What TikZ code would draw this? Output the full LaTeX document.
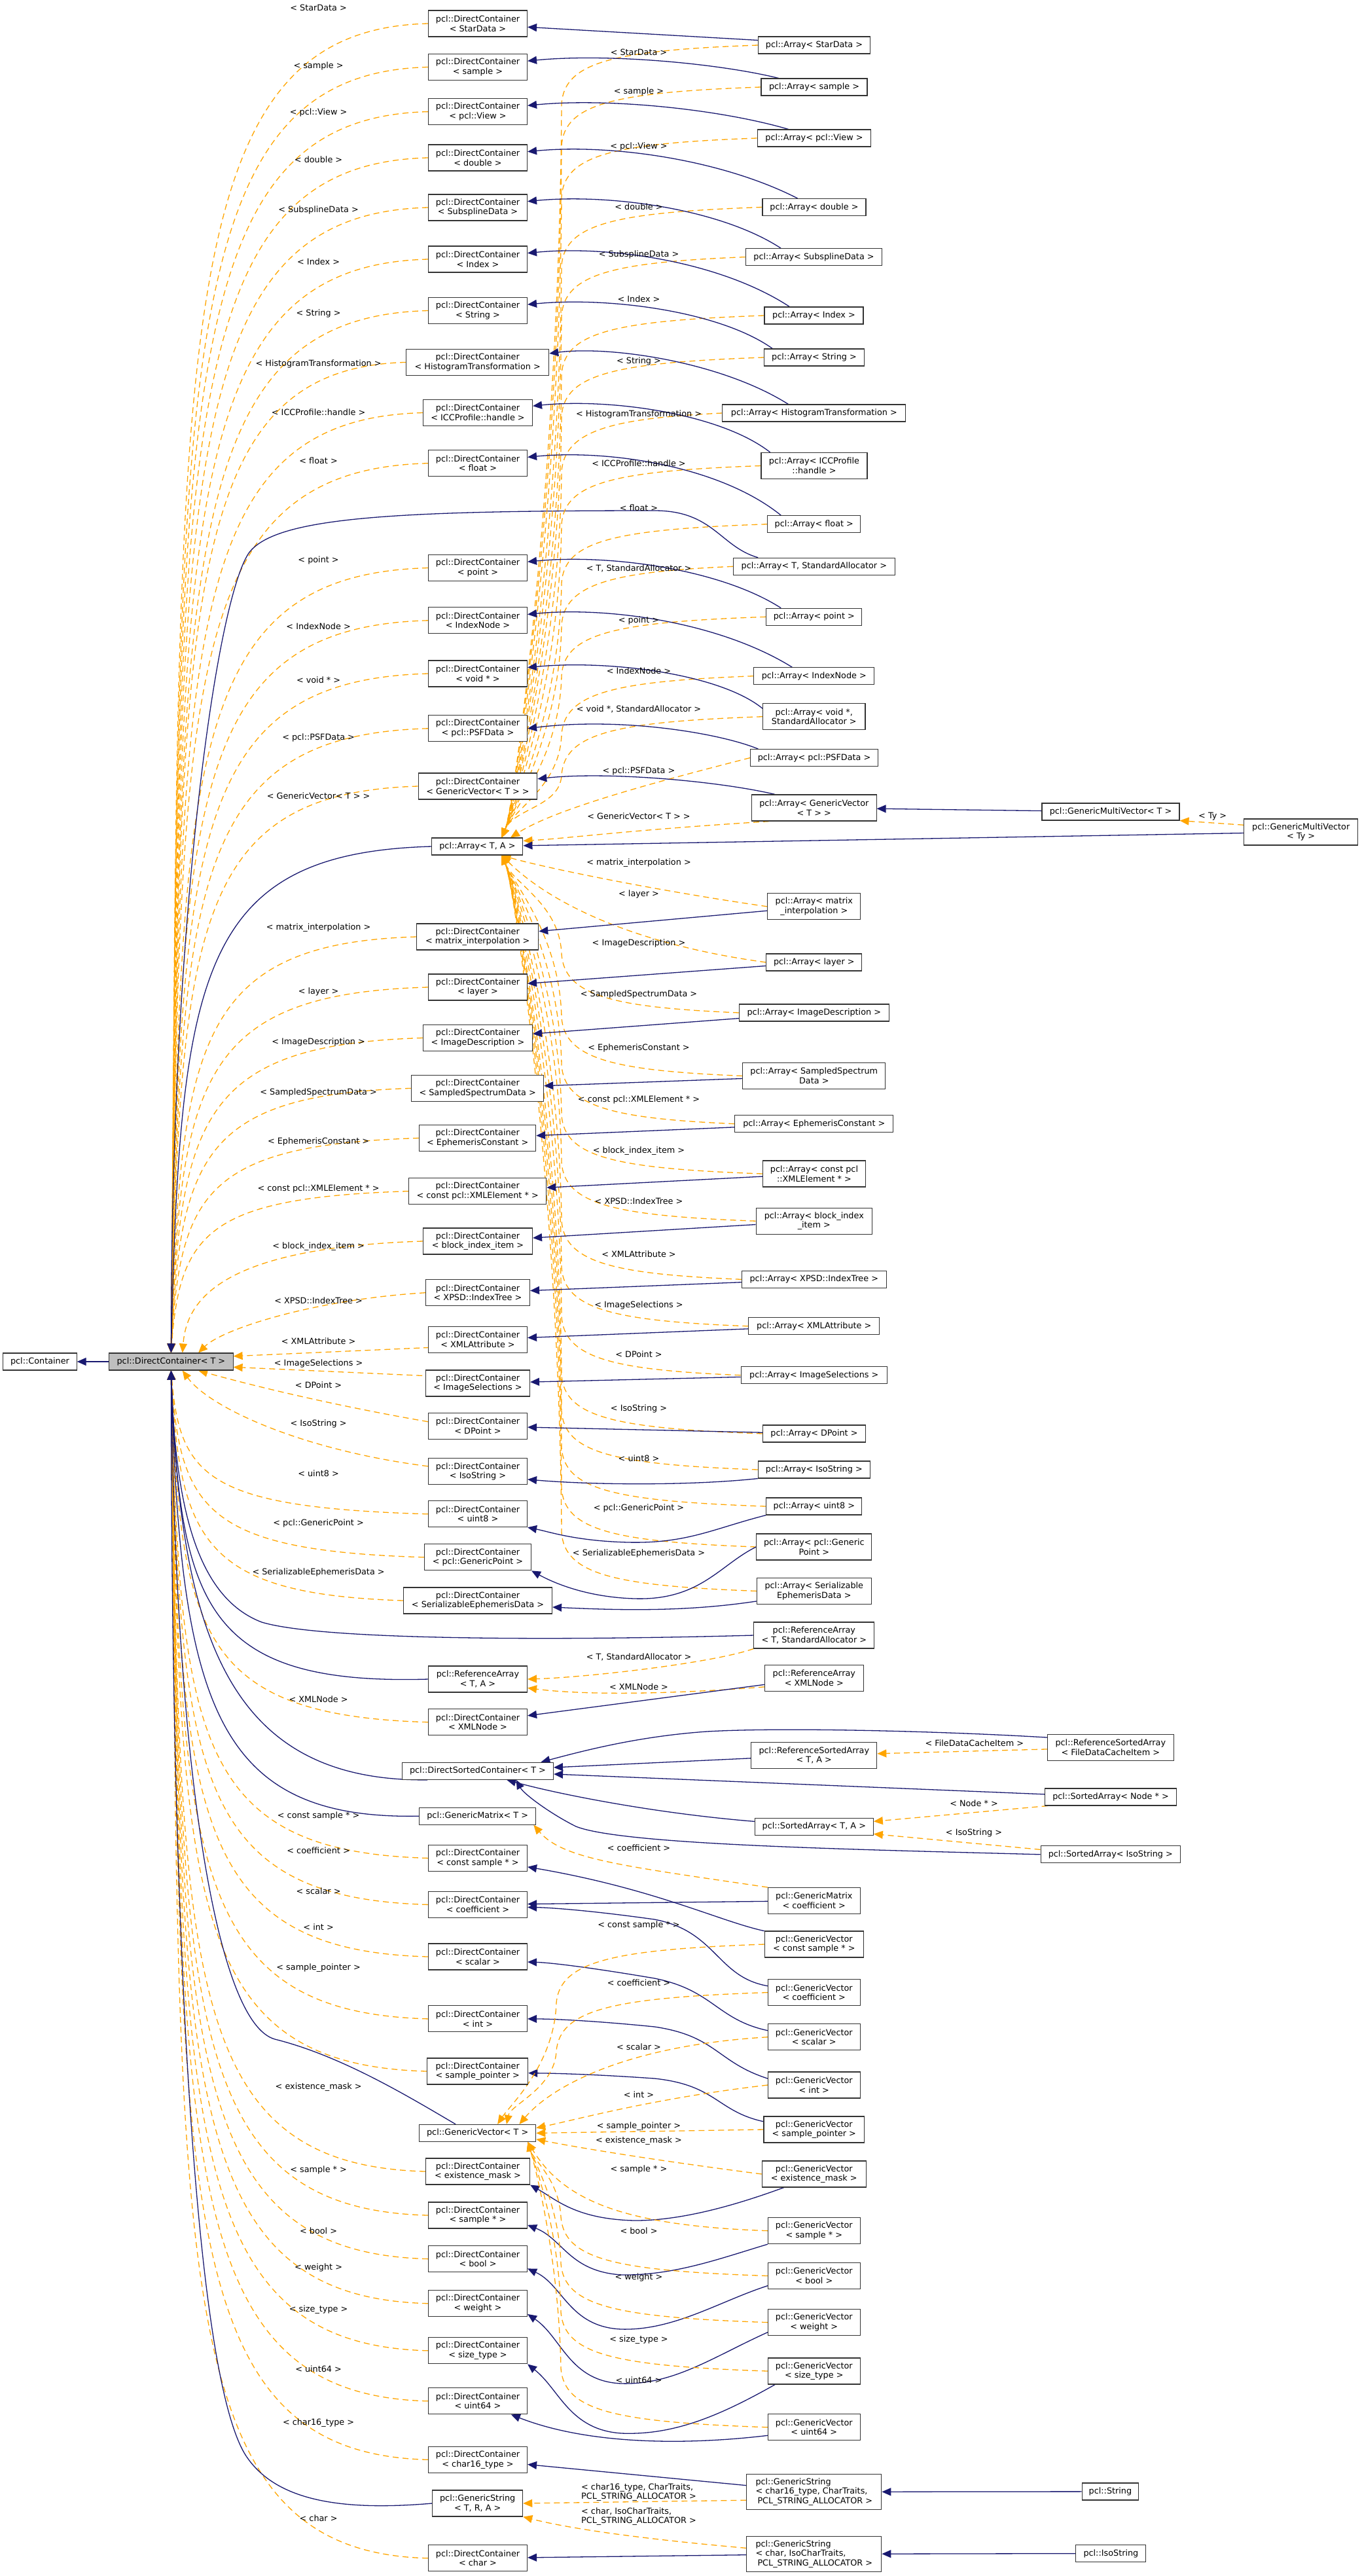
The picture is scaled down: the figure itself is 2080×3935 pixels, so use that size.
\documentclass[tikz,border=0pt]{standalone}
\usepackage{fontspec}
\setmainfont{DejaVu Sans}
\usetikzlibrary{arrows.meta}
\definecolor{navy}{HTML}{191970}
\definecolor{orng}{HTML}{FFA500}
\definecolor{dcfill}{HTML}{BFBFBF}
\pgfdeclarelayer{bg}
\pgfsetlayers{bg,main}
\newcommand\dfont{\fontsize{12.8pt}{14.7pt}\selectfont}
\tikzset{
 box/.style={draw=black!80, line width=1.1pt, fill=white, inner sep=0pt, align=center, font=\dfont},
 dcw/.style={box, minimum width=151pt, minimum height=40pt},
 one/.style={box, minimum height=26pt},
 two/.style={box, minimum height=40pt},
 lbl/.style={inner sep=0pt, font=\dfont, align=center},
 inh/.style={draw=navy, line width=1.3pt, -{Triangle[length=14pt,width=12pt]}},
 tmpl/.style={draw=orng, line width=1.3pt, dash pattern=on 9pt off 6pt, -{Triangle[length=14pt,width=12pt]}},
}
% DirectContainer fan
\newcommand\fanDU[3]{\draw[tmpl] (#1.west) .. controls (#2,#3+10) and (275,{#3+0.25*(2067-#3)}) .. (dc.north);}
\newcommand\fanDD[3]{\draw[tmpl] (#1.west) .. controls (#2,#3-10) and (275,{#3-0.25*(#3-2093)}) .. (dc.south);}
% Array fan
\newcommand\fanAU[2]{\draw[tmpl] (#1.west) .. controls (940,#2+8) and (862,#2+25) .. (858,#2+90) .. controls (855,{(#2+1370)/2}) and (785,1235) .. (aTA.20);}
\newcommand\fanAD[2]{\draw[tmpl] (#1.west) .. controls (940,#2-8) and (862,#2-25) .. (858,#2-90) .. controls (855,{(#2-90+1306)/2}) and (785,1350) .. (aTA.-20);}
% GenericVector fan
\newcommand\fanGU[3]{\draw[tmpl] (#1.west) .. controls (940,#2+8) and (855,#2+25) .. (850,#2+90) .. controls (847,{(#2+90+3246)/2}) and (780,3215) .. (gvT.#3);}
\newcommand\fanGD[2]{\draw[tmpl] (#1.west) .. controls (940,#2-8) and (862,#2-25) .. (857,#2-90) .. controls (854,{(#2-90+3271)/2}) and (815,3300) .. (gvT.-10);}
% Array -> DirectContainer S curves
\newcommand\sS[5]{\draw[inh] (#1.#2) .. controls (1100,{#5+0.15*(#4-#5)}) and (930,#5-12) .. (#3.7);}
\begin{document}
\begin{tikzpicture}[x=1pt,y=-1pt]
\useasboundingbox (0,0) rectangle (2080,3935);

% ---------- left ----------
\node[one, minimum width=112.3pt] (cont) at (61,2080) {pcl::Container};
\node[one, minimum width=189.3pt, fill=dcfill] (dc) at (261.4,2080) {pcl::DirectContainer< T >};

% ---------- DirectContainer column ----------
\node[dcw] (dcStar) at (730,36) {pcl::DirectContainer\\< StarData >};
\node[dcw] (dcSample) at (730,102.5) {pcl::DirectContainer\\< sample >};
\node[dcw] (dcView) at (730,170.6) {pcl::DirectContainer\\< pcl::View >};
\node[dcw] (dcDouble) at (730,241) {pcl::DirectContainer\\< double >};
\node[dcw] (dcSubspline) at (730,317) {pcl::DirectContainer\\< SubsplineData >};
\node[dcw] (dcIndex) at (730,396) {pcl::DirectContainer\\< Index >};
\node[dcw] (dcString) at (730,474.5) {pcl::DirectContainer\\< String >};
\node[dcw, minimum width=218pt] (dcHist) at (729.7,553.4) {pcl::DirectContainer\\< HistogramTransformation >};
\node[dcw, minimum width=167pt] (dcICC) at (730,630.5) {pcl::DirectContainer\\< ICCProfile::handle >};
\node[dcw] (dcFloat) at (730,707.7) {pcl::DirectContainer\\< float >};
\node[dcw] (dcPoint) at (730,867.5) {pcl::DirectContainer\\< point >};
\node[dcw] (dcIndexNode) at (730,947.8) {pcl::DirectContainer\\< IndexNode >};
\node[dcw] (dcVoid) at (730,1029) {pcl::DirectContainer\\< void * >};
\node[dcw] (dcPSF) at (730,1112.8) {pcl::DirectContainer\\< pcl::PSFData >};
\node[dcw, minimum width=181.5pt] (dcGV) at (730,1201) {pcl::DirectContainer\\< GenericVector< T > >};
\node[one, minimum width=139pt] (aTA) at (729.4,1293) {pcl::Array< T, A >};
\node[dcw, minimum width=186pt] (dcMI) at (729.7,1431) {pcl::DirectContainer\\< matrix\_interpolation >};
\node[dcw] (dcLayer) at (730,1508) {pcl::DirectContainer\\< layer >};
\node[dcw, minimum width=167pt] (dcImgDesc) at (730,1585.5) {pcl::DirectContainer\\< ImageDescription >};
\node[dcw, minimum width=202pt] (dcSSD) at (729.7,1662.4) {pcl::DirectContainer\\< SampledSpectrumData >};
\node[dcw, minimum width=178pt] (dcEph) at (729.7,1738.5) {pcl::DirectContainer\\< EphemerisConstant >};
\node[dcw, minimum width=210pt] (dcXMLE) at (729.7,1819.6) {pcl::DirectContainer\\< const pcl::XMLElement * >};
\node[dcw, minimum width=167pt] (dcBlock) at (730,1896) {pcl::DirectContainer\\< block\_index\_item >};
\node[dcw, minimum width=159pt] (dcXPSD) at (730,1974.7) {pcl::DirectContainer\\< XPSD::IndexTree >};
\node[dcw] (dcXMLA) at (730,2046.5) {pcl::DirectContainer\\< XMLAttribute >};
\node[dcw, minimum width=159pt] (dcImgSel) at (730,2113) {pcl::DirectContainer\\< ImageSelections >};
\node[dcw] (dcDPoint) at (730,2178.4) {pcl::DirectContainer\\< DPoint >};
\node[dcw] (dcIsoString) at (730,2247.8) {pcl::DirectContainer\\< IsoString >};
\node[dcw] (dcUint8) at (730,2312.8) {pcl::DirectContainer\\< uint8 >};
\node[dcw, minimum width=163pt] (dcGP) at (730,2378.8) {pcl::DirectContainer\\< pcl::GenericPoint >};
\node[dcw, minimum width=227pt] (dcSED) at (730,2445) {pcl::DirectContainer\\< SerializableEphemerisData >};
\node[dcw] (raTA) at (730,2565) {pcl::ReferenceArray\\< T, A >};
\node[dcw] (dcXMLNode) at (730,2630.7) {pcl::DirectContainer\\< XMLNode >};
\node[one, minimum width=231pt] (dsc) at (730,2705.3) {pcl::DirectSortedContainer< T >};
\node[one, minimum width=178pt] (gmT) at (729.7,2774.2) {pcl::GenericMatrix< T >};
\node[dcw] (dcCSample) at (730,2838.4) {pcl::DirectContainer\\< const sample * >};
\node[dcw] (dcCoef) at (730,2909.4) {pcl::DirectContainer\\< coefficient >};
\node[dcw] (dcScalar) at (730,2989) {pcl::DirectContainer\\< scalar >};
\node[dcw] (dcInt) at (730,3083.9) {pcl::DirectContainer\\< int >};
\node[dcw, minimum width=154pt] (dcSP) at (729.7,3164) {pcl::DirectContainer\\< sample\_pointer >};
\node[one, minimum width=178pt] (gvT) at (729.7,3258.4) {pcl::GenericVector< T >};
\node[dcw, minimum width=159pt] (dcEM) at (730,3317) {pcl::DirectContainer\\< existence\_mask >};
\node[dcw] (dcSampleP) at (730,3384) {pcl::DirectContainer\\< sample * >};
\node[dcw] (dcBool) at (730,3450.6) {pcl::DirectContainer\\< bool >};
\node[dcw] (dcWeight) at (730,3518.7) {pcl::DirectContainer\\< weight >};
\node[dcw] (dcSize) at (730,3590.8) {pcl::DirectContainer\\< size\_type >};
\node[dcw] (dcUint64) at (730,3667.8) {pcl::DirectContainer\\< uint64 >};
\node[dcw] (dcChar16) at (730,3757.3) {pcl::DirectContainer\\< char16\_type >};
\node[dcw, minimum width=138pt] (gsT) at (729.7,3824) {pcl::GenericString\\< T, R, A >};
\node[dcw] (dcChar) at (730,3907.8) {pcl::DirectContainer\\< char >};

% ---------- Array column ----------
\node[one, minimum width=171pt] (aStar) at (1244,69) {pcl::Array< StarData >};
\node[one, minimum width=162pt] (aSample) at (1244,133) {pcl::Array< sample >};
\node[one, minimum width=173.5pt] (aView) at (1244,211) {pcl::Array< pcl::View >};
\node[one, minimum width=158pt] (aDouble) at (1244,316.5) {pcl::Array< double >};
\node[one, minimum width=208.6pt] (aSubspline) at (1243.5,392.6) {pcl::Array< SubsplineData >};
\node[one, minimum width=151pt] (aIndex) at (1243.5,482) {pcl::Array< Index >};
\node[one, minimum width=152.4pt] (aString) at (1244,546) {pcl::Array< String >};
\node[one, minimum width=280pt] (aHist) at (1243.8,631) {pcl::Array< HistogramTransformation >};
\node[two, minimum width=162pt] (aICC) at (1244,711.5) {pcl::Array< ICCProfile\\::handle >};
\node[one, minimum width=142pt] (aFloat) at (1243.8,800.7) {pcl::Array< float >};
\node[one, minimum width=247pt] (aTStd) at (1243.8,865.3) {pcl::Array< T, StandardAllocator >};
\node[one, minimum width=146pt] (aPoint) at (1243.8,942.3) {pcl::Array< point >};
\node[one, minimum width=184pt] (aIndexNode) at (1243.8,1032.7) {pcl::Array< IndexNode >};
\node[two, minimum width=156.4pt] (aVoid) at (1243.8,1094.7) {pcl::Array< void *,\\StandardAllocator >};
\node[one, minimum width=195pt] (aPSF) at (1244,1157.6) {pcl::Array< pcl::PSFData >};
\node[two, minimum width=190.5pt] (aGV) at (1243.8,1234) {pcl::Array< GenericVector\\< T > >};
\node[one, minimum width=210pt] (gmvT) at (1697,1240) {pcl::GenericMultiVector< T >};
\node[two, minimum width=174pt] (gmvTy) at (1987.7,1271) {pcl::GenericMultiVector\\< Ty >};
\node[two, minimum width=142pt] (aMI) at (1243.8,1384.8) {pcl::Array< matrix\\\_interpolation >};
\node[one, minimum width=146pt] (aLayer) at (1243.8,1470) {pcl::Array< layer >};
\node[one, minimum width=228.5pt] (aImgDesc) at (1243.8,1547) {pcl::Array< ImageDescription >};
\node[two, minimum width=218pt] (aSSD) at (1243.8,1643.5) {pcl::Array< SampledSpectrum\\Data >};
\node[one, minimum width=242pt] (aEph) at (1243.8,1716.7) {pcl::Array< EphemerisConstant >};
\node[two, minimum width=157pt] (aXMLE) at (1244,1793) {pcl::Array< const pcl\\::XMLElement * >};
\node[two, minimum width=177.5pt] (aBlock) at (1243.8,1865.2) {pcl::Array< block\_index\\\_item >};
\node[one, minimum width=221pt] (aXPSD) at (1243.8,1954.3) {pcl::Array< XPSD::IndexTree >};
\node[one, minimum width=200pt] (aXMLA) at (1243.8,2025.8) {pcl::Array< XMLAttribute >};
\node[one, minimum width=223.5pt] (aImgSel) at (1243.8,2100.7) {pcl::Array< ImageSelections >};
\node[one, minimum width=157pt] (aDPoint) at (1244,2190) {pcl::Array< DPoint >};
\node[one, minimum width=171pt] (aIsoString) at (1243.8,2245) {pcl::Array< IsoString >};
\node[one, minimum width=146pt] (aUint8) at (1243.8,2301) {pcl::Array< uint8 >};
\node[two, minimum width=176pt] (aGP) at (1243.8,2363) {pcl::Array< pcl::Generic\\Point >};
\node[two, minimum width=175pt] (aSED) at (1243.8,2430.4) {pcl::Array< Serializable\\EphemerisData >};
\node[two, minimum width=184pt] (raTStd) at (1243.8,2498) {pcl::ReferenceArray\\< T, StandardAllocator >};
\node[two, minimum width=151pt] (raXMLNode) at (1243.8,2563.4) {pcl::ReferenceArray\\< XMLNode >};
\node[two, minimum width=192pt] (rsaTA) at (1243.8,2681.3) {pcl::ReferenceSortedArray\\< T, A >};
\node[two, minimum width=192.5pt] (rsaFD) at (1696.8,2669.4) {pcl::ReferenceSortedArray\\< FileDataCacheItem >};
\node[one, minimum width=201pt] (saNode) at (1697,2745) {pcl::SortedArray< Node * >};
\node[one, minimum width=181pt] (saTA) at (1243.8,2790.3) {pcl::SortedArray< T, A >};
\node[one, minimum width=213.5pt] (saIso) at (1696.8,2832.8) {pcl::SortedArray< IsoString >};
\node[two, minimum width=140.6pt] (gmCoef) at (1243.8,2903.5) {pcl::GenericMatrix\\< coefficient >};
\node[two, minimum width=151pt] (gvCSample) at (1243.8,2970) {pcl::GenericVector\\< const sample * >};
\node[two, minimum width=140.6pt] (gvCoef) at (1243.8,3043.6) {pcl::GenericVector\\< coefficient >};
\node[two, minimum width=140.6pt] (gvScalar) at (1243.8,3111.7) {pcl::GenericVector\\< scalar >};
\node[two, minimum width=140.6pt] (gvInt) at (1243.8,3185) {pcl::GenericVector\\< int >};
\node[two, minimum width=153.7pt] (gvSP) at (1243.8,3253) {pcl::GenericVector\\< sample\_pointer >};
\node[two, minimum width=159pt] (gvEM) at (1243.8,3321) {pcl::GenericVector\\< existence\_mask >};
\node[two, minimum width=140.6pt] (gvSampleP) at (1243.8,3407.6) {pcl::GenericVector\\< sample * >};
\node[two, minimum width=140.6pt] (gvBool) at (1243.8,3476.5) {pcl::GenericVector\\< bool >};
\node[two, minimum width=140.6pt] (gvWeight) at (1243.8,3547.6) {pcl::GenericVector\\< weight >};
\node[two, minimum width=140.6pt] (gvSize) at (1243.8,3622) {pcl::GenericVector\\< size\_type >};
\node[two, minimum width=140.6pt] (gvUint64) at (1243.8,3707.8) {pcl::GenericVector\\< uint64 >};
\node[box, minimum width=206pt, minimum height=54.5pt, align=left] (gsChar16) at (1243.8,3806.5) {pcl::GenericString\\< char16\_type, CharTraits,\\\hspace*{3pt}PCL\_STRING\_ALLOCATOR >};
\node[box, minimum width=206pt, minimum height=54.5pt, align=left] (gsChar) at (1243.8,3901.4) {pcl::GenericString\\< char, IsoCharTraits,\\\hspace*{3pt}PCL\_STRING\_ALLOCATOR >};
\node[one, minimum width=86.7pt] (str) at (1696.4,3806) {pcl::String};
\node[one, minimum width=107pt] (isoStr) at (1697.4,3900.5) {pcl::IsoString};

% ---------- labels: left ----------
\node[lbl] (ldStar) at (486.6,11.7) {< StarData >};
\node[lbl] (ldSample) at (486.6,100.6) {< sample >};
\node[lbl] (ldView) at (486.6,171.7) {< pcl::View >};
\node[lbl] (ldDouble) at (486.6,244) {< double >};
\node[lbl] (ldSubspline) at (486.6,320.5) {< SubsplineData >};
\node[lbl] (ldIndex) at (486.6,399.4) {< Index >};
\node[lbl] (ldString) at (486.6,478.8) {< String >};
\node[lbl] (ldHist) at (486.6,555.5) {< HistogramTransformation >};
\node[lbl] (ldICC) at (486.6,630) {< ICCProfile::handle >};
\node[lbl] (ldFloat) at (486.6,703.4) {< float >};
\node[lbl] (ldPoint) at (486.6,855.6) {< point >};
\node[lbl] (ldIndexNode) at (486.6,956.6) {< IndexNode >};
\node[lbl] (ldVoid) at (486.6,1039) {< void * >};
\node[lbl] (ldPSF) at (486.6,1126.6) {< pcl::PSFData >};
\node[lbl] (ldGV) at (486.6,1215.5) {< GenericVector< T > >};
\node[lbl] (ldMI) at (486.6,1416.7) {< matrix\_interpolation >};
\node[lbl] (ldLayer) at (486.6,1514.7) {< layer >};
\node[lbl] (ldImgDesc) at (486.6,1592) {< ImageDescription >};
\node[lbl] (ldSSD) at (486.6,1668.7) {< SampledSpectrumData >};
\node[lbl] (ldEph) at (486.6,1743.7) {< EphemerisConstant >};
\node[lbl] (ldXMLE) at (486.6,1815.7) {< const pcl::XMLElement * >};
\node[lbl] (ldBlock) at (486.6,1903.7) {< block\_index\_item >};
\node[lbl] (ldXPSD) at (486.6,1986.6) {< XPSD::IndexTree >};
\node[lbl] (ldXMLA) at (486.6,2048.5) {< XMLAttribute >};
\node[lbl] (ldImgSel) at (486.6,2082.8) {< ImageSelections >};
\node[lbl] (ldDPoint) at (486.6,2115.7) {< DPoint >};
\node[lbl] (ldIsoString) at (486.6,2174.7) {< IsoString >};
\node[lbl] (ldUint8) at (486.6,2250.6) {< uint8 >};
\node[lbl] (ldGP) at (486.6,2327.4) {< pcl::GenericPoint >};
\node[lbl] (ldSED) at (486.6,2402.4) {< SerializableEphemerisData >};
\node[lbl] (ldXMLNode) at (486.6,2595.4) {< XMLNode >};
\node[lbl] (ldCSample) at (486.6,2774.4) {< const sample * >};
\node[lbl] (ldCoef) at (486.6,2826.5) {< coefficient >};
\node[lbl] (ldScalar) at (486.6,2888.5) {< scalar >};
\node[lbl] (ldInt) at (486.6,2943.6) {< int >};
\node[lbl] (ldSP) at (486.6,3006.5) {< sample\_pointer >};
\node[lbl] (ldEM) at (486.6,3188.6) {< existence\_mask >};
\node[lbl] (ldSampleP) at (486.6,3315) {< sample * >};
\node[lbl] (ldBool) at (486.6,3407.3) {< bool >};
\node[lbl] (ldWeight) at (486.6,3464.4) {< weight >};
\node[lbl] (ldSize) at (486.6,3528.4) {< size\_type >};
\node[lbl] (ldUint64) at (486.6,3618.7) {< uint64 >};
\node[lbl] (ldChar16) at (486.6,3700.9) {< char16\_type >};
\node[lbl] (ldChar) at (486.6,3846.7) {< char >};

% ---------- labels: middle ----------
\node[lbl] (lmStar) at (976,79.4) {< StarData >};
\node[lbl] (lmSample) at (976,140) {< sample >};
\node[lbl] (lmView) at (976,224.2) {< pcl::View >};
\node[lbl] (lmDouble) at (976,315.3) {< double >};
\node[lbl] (lmSubspline) at (976,388.6) {< SubsplineData >};
\node[lbl] (lmIndex) at (976,456.7) {< Index >};
\node[lbl] (lmString) at (976,551.6) {< String >};
\node[lbl] (lmHist) at (976,632.7) {< HistogramTransformation >};
\node[lbl] (lmICC) at (976,707.3) {< ICCProfile::handle >};
\node[lbl] (lmFloat) at (976,775.4) {< float >};
\node[lbl] (lmTStd) at (976,868.6) {< T, StandardAllocator >};
\node[lbl] (lmPoint) at (976,947.5) {< point >};
\node[lbl] (lmIndexNode) at (976,1024.7) {< IndexNode >};
\node[lbl] (lmVoid) at (976,1083.7) {< void *, StandardAllocator >};
\node[lbl] (lmPSF) at (976,1178.2) {< pcl::PSFData >};
\node[lbl] (lmGV) at (976,1246.3) {< GenericVector< T > >};
\node[lbl] (lmMI) at (976,1318.3) {< matrix\_interpolation >};
\node[lbl] (lmLayer) at (976,1366.4) {< layer >};
\node[lbl] (lmImgDesc) at (976,1440.6) {< ImageDescription >};
\node[lbl] (lmSSD) at (976,1518.6) {< SampledSpectrumData >};
\node[lbl] (lmEph) at (976,1600.6) {< EphemerisConstant >};
\node[lbl] (lmXMLE) at (976,1679.5) {< const pcl::XMLElement * >};
\node[lbl] (lmBlock) at (976,1758.4) {< block\_index\_item >};
\node[lbl] (lmXPSD) at (976,1834.3) {< XPSD::IndexTree >};
\node[lbl] (lmXMLA) at (976,1915.4) {< XMLAttribute >};
\node[lbl] (lmImgSel) at (976,1993.5) {< ImageSelections >};
\node[lbl] (lmDPoint) at (976,2068.5) {< DPoint >};
\node[lbl] (lmIsoString) at (976,2151.7) {< IsoString >};
\node[lbl] (lmUint8) at (976,2227.2) {< uint8 >};
\node[lbl] (lmGP) at (976,2303.5) {< pcl::GenericPoint >};
\node[lbl] (lmSED) at (976,2372.5) {< SerializableEphemerisData >};
\node[lbl] (lmRTStd) at (976,2531.2) {< T, StandardAllocator >};
\node[lbl] (lmRXMLNode) at (976,2576.3) {< XMLNode >};
\node[lbl] (lmGMCoef) at (976,2822.6) {< coefficient >};
\node[lbl] (lmCSample) at (976,2940.5) {< const sample * >};
\node[lbl] (lmCoef) at (976,3028.6) {< coefficient >};
\node[lbl] (lmScalar) at (976,3126.6) {< scalar >};
\node[lbl] (lmInt) at (976,3199.4) {< int >};
\node[lbl] (lmSP) at (976,3248.4) {< sample\_pointer >};
\node[lbl] (lmEM) at (976,3270.5) {< existence\_mask >};
\node[lbl] (lmSampleP) at (976,3314) {< sample * >};
\node[lbl] (lmBool) at (976,3407.3) {< bool >};
\node[lbl] (lmWeight) at (976,3479.4) {< weight >};
\node[lbl] (lmSize) at (976,3574.6) {< size\_type >};
\node[lbl] (lmUint64) at (976,3635.3) {< uint64 >};
\node[lbl, align=left] (lmChar16) at (976,3807) {< char16\_type, CharTraits,\\PCL\_STRING\_ALLOCATOR >};
\node[lbl, align=left] (lmChar) at (976,3844) {< char, IsoCharTraits,\\PCL\_STRING\_ALLOCATOR >};
% right labels
\node[lbl] (lrFD) at (1488.8,2663) {< FileDataCacheItem >};
\node[lbl] (lrNode) at (1488,2755) {< Node * >};
\node[lbl] (lrIso) at (1488,2800) {< IsoString >};
\node[lbl] (lrTy) at (1852.7,1246.7) {< Ty >};

\begin{pgfonlayer}{bg}
% Container
\draw[inh] (dc) -- (cont);
% ---- DirectContainer<X> -> DirectContainer<T> (dashed) ----
\fanDU{dcStar}{250}{36}
\fanDU{dcSample}{253}{102.5}
\fanDU{dcView}{255}{170.6}
\fanDU{dcDouble}{258}{241}
\fanDU{dcSubspline}{261}{317}
\fanDU{dcIndex}{264}{396}
\fanDU{dcString}{267}{474.5}
\fanDU{dcHist}{270}{553.4}
\fanDU{dcICC}{273}{630.5}
\fanDU{dcFloat}{276}{707.7}
\fanDU{dcPoint}{283}{867.5}
\fanDU{dcIndexNode}{286}{947.8}
\fanDU{dcVoid}{289}{1029}
\fanDU{dcPSF}{292}{1112.8}
\fanDU{dcGV}{296}{1201}
\fanDU{dcMI}{305}{1431}
\fanDU{dcLayer}{308}{1508}
\fanDU{dcImgDesc}{311}{1585.5}
\fanDU{dcSSD}{314}{1662.4}
\fanDU{dcEph}{317}{1738.5}
\fanDU{dcXMLE}{320}{1819.6}
\draw[tmpl] (dcBlock.west) .. controls (330,1906) and (285,1990) .. (dc.38);
\draw[tmpl] (dcXPSD.west) .. controls (480,1985) and (340,2030) .. (dc.18);
\draw[tmpl] (dcXMLA.-4) -- (dc.5);
\draw[tmpl] (dcImgSel.3) -- (dc.-5);
\draw[tmpl] (dcDPoint.175) .. controls (500,2145) and (380,2115) .. (dc.-18);
\draw[tmpl] (dcIsoString.174) .. controls (460,2215) and (320,2150) .. (dc.-38);
\fanDD{dcUint8}{320}{2312.8}
\fanDD{dcGP}{317}{2378.8}
\fanDD{dcSED}{314}{2445}
\fanDD{dcXMLNode}{306}{2630.7}
\fanDD{dcCSample}{297}{2838.4}
\fanDD{dcCoef}{294}{2909.4}
\fanDD{dcScalar}{290}{2989}
\fanDD{dcInt}{286}{3083.9}
\fanDD{dcSP}{283}{3164}
\fanDD{dcEM}{276}{3317}
\fanDD{dcSampleP}{273}{3384}
\fanDD{dcBool}{270}{3450.6}
\fanDD{dcWeight}{267}{3518.7}
\fanDD{dcSize}{264}{3590.8}
\fanDD{dcUint64}{261}{3667.8}
\fanDD{dcChar16}{257}{3757.3}
\fanDD{dcChar}{250}{3907.8}
% ---- solid into DirectContainer<T> ----
\draw[inh] (aTA.west) .. controls (305,1303) and (275,1486) .. (dc.north);
\draw[inh] (aTStd.171) .. controls (1100,835) and (1090,780) .. (1000,780) .. controls (600,780) and (420,790) .. (380,845) .. controls (330,920) and (262,1400) .. (dc.north);
\draw[inh] (raTStd.west) .. controls (900,2505) and (500,2508) .. (400,2478) .. controls (300,2440) and (268,2300) .. (dc.south);
\draw[inh] (raTA.west) .. controls (310,2575) and (275,2447) .. (dc.south);
\draw[inh] (dsc.190) .. controls (350,2722) and (275,2500) .. (dc.south);
\draw[inh] (gmT.west) .. controls (330,2780) and (275,2604) .. (dc.south);
\draw[inh] (gvT.158) .. controls (620,3200) and (520,3140) .. (420,3115) .. controls (330,3090) and (268,2700) .. (dc.south);
\draw[inh] (gsT.west) .. controls (520,3836) and (420,3820) .. (375,3750) .. controls (300,3630) and (262,3000) .. (dc.south);
% ---- Array<X> -> Array<T,A> (dashed) ----
\fanAU{aStar}{69}
\fanAU{aSample}{133}
\fanAU{aView}{211}
\fanAU{aDouble}{316.5}
\fanAU{aSubspline}{392.6}
\fanAU{aIndex}{482}
\fanAU{aString}{546}
\fanAU{aHist}{631}
\fanAU{aICC}{711.5}
\fanAU{aFloat}{800.7}
\fanAU{aTStd}{865.3}
\fanAU{aPoint}{942.3}
\fanAU{aIndexNode}{1032.7}
\fanAU{aVoid}{1094.7}
\draw[tmpl] (aPSF.west) .. controls (1000,1195) and (850,1235) .. (aTA.15);
\draw[tmpl] (aGV.-7) .. controls (1000,1262) and (880,1280) .. (aTA.7);
\draw[tmpl] (aMI.west) .. controls (1000,1360) and (830,1325) .. (aTA.-20);
\draw[tmpl] (aLayer.west) .. controls (950,1440) and (830,1370) .. (aTA.-20);
\fanAD{aImgDesc}{1547}
\fanAD{aSSD}{1643.5}
\fanAD{aEph}{1716.7}
\fanAD{aXMLE}{1793}
\fanAD{aBlock}{1865.2}
\fanAD{aXPSD}{1954.3}
\fanAD{aXMLA}{2025.8}
\fanAD{aImgSel}{2100.7}
\fanAD{aDPoint}{2190}
\fanAD{aIsoString}{2245}
\fanAD{aUint8}{2301}
\fanAD{aGP}{2363}
\fanAD{aSED}{2430.4}
% ---- Array<X> -> DirectContainer<X> (solid) ----
\draw[inh] (aStar.175) -- (dcStar.-4);
\sS{aSample}{166}{dcSample}{120.5}{93.2}
\sS{aView}{161}{dcView}{198.5}{161.3}
\sS{aDouble}{152}{dcDouble}{304}{231.7}
\sS{aSubspline}{165}{dcSubspline}{380}{307.7}
\sS{aIndex}{160}{dcIndex}{469}{386.7}
\sS{aString}{168}{dcString}{533}{465.2}
\sS{aHist}{161}{dcHist}{618}{540}
\sS{aICC}{163}{dcICC}{691.5}{620.3}
\sS{aFloat}{165}{dcFloat}{788}{698.4}
\sS{aPoint}{165}{dcPoint}{929.8}{858.2}
\sS{aIndexNode}{158}{dcIndexNode}{1020}{938.5}
\sS{aVoid}{171}{dcVoid}{1083}{1019.7}
\draw[inh] (aPSF.171) .. controls (1100,1120) and (950,1095) .. (dcPSF.east);
\sS{aGV}{161}{dcGV}{1214}{1190}
\draw[inh] (aMI) -- (dcMI);
\draw[inh] (aLayer) -- (dcLayer);
\draw[inh] (aImgDesc) -- (dcImgDesc);
\draw[inh] (aSSD) -- (dcSSD);
\draw[inh] (aEph) -- (dcEph);
\draw[inh] (aXMLE) -- (dcXMLE);
\draw[inh] (aBlock) -- (dcBlock);
\draw[inh] (aXPSD) -- (dcXPSD);
\draw[inh] (aXMLA) -- (dcXMLA);
\draw[inh] (aImgSel) -- (dcImgSel);
\draw[inh] (aDPoint) -- (dcDPoint);
\draw[inh] (aIsoString.south west) .. controls (1050,2270) and (900,2268) .. (dcIsoString.-9);
\draw[inh] (aUint8.south west) .. controls (1090,2335) and (1050,2358) .. (960,2356) .. controls (880,2354) and (840,2340) .. (dcUint8.-15);
\draw[inh] (aGP.west) .. controls (1100,2390) and (1070,2445) .. (970,2442) .. controls (900,2440) and (850,2420) .. (dcGP.south east);
\draw[inh] (aSED.190) .. controls (1050,2462) and (950,2460) .. (dcSED.-5);
% ---- GenericMultiVector ----
\draw[inh] (gmvT) -- (aGV);
\draw[tmpl] (gmvTy.173) -- (gmvT.south east);
\draw[inh] (gmvTy) -- (aTA);
% ---- ReferenceArray ----
\draw[tmpl] (raTStd.south west) .. controls (1090,2540) and (900,2562) .. (raTA.east);
\draw[tmpl] (raXMLNode.190) .. controls (1000,2590) and (880,2588) .. (raTA.-10);
\draw[inh] (raXMLNode) -- (dcXMLNode);
% ---- sorted containers ----
\draw[inh] (rsaFD.171) .. controls (1450,2645) and (1200,2638) .. (1080,2645) .. controls (980,2652) and (900,2672) .. (dsc.8);
\draw[inh] (rsaTA) -- (dsc);
\draw[inh] (saNode) -- (dsc);
\draw[inh] (saTA.175) .. controls (1000,2770) and (850,2740) .. (dsc.-17);
\draw[inh] (saIso.west) .. controls (1300,2825) and (950,2818) .. (880,2790) .. controls (840,2770) and (800,2740) .. (dsc.-13);
\draw[tmpl] (rsaFD) -- (rsaTA);
\draw[tmpl] (saNode.188) -- (saTA.5);
\draw[tmpl] (saIso.176) -- (saTA.-7);
% ---- GenericMatrix ----
\draw[tmpl] (gmCoef.north west) .. controls (950,2850) and (860,2840) .. (gmT.-9);
\draw[inh] (gmCoef) -- (dcCoef);
% ---- GenericVector<X> -> DirectContainer<X> ----
\draw[inh] (gvCSample.165) .. controls (1100,2935) and (1000,2885) .. (dcCSample.-10);
\draw[inh] (gvCoef.172) .. controls (1095,3020) and (1095,2950) .. (1000,2932) .. controls (900,2918) and (840,2914) .. (dcCoef.-3);
\draw[inh] (gvScalar.172) .. controls (1095,3085) and (1090,3040) .. (1000,3022) .. controls (900,3005) and (840,2998) .. (dcScalar.-6);
\draw[inh] (gvInt.172) .. controls (1095,3150) and (1095,3110) .. (1000,3096) .. controls (900,3086) and (840,3084) .. (dcInt.east);
\draw[inh] (gvSP.171) .. controls (1095,3225) and (1095,3185) .. (1000,3175) .. controls (900,3168) and (840,3167) .. (dcSP.-2);
\draw[inh] (gvEM.204) .. controls (1120,3370) and (1040,3392) .. (970,3392) .. controls (880,3390) and (850,3360) .. (dcEM.south east);
\draw[inh] (gvSampleP.south west) .. controls (1100,3450) and (1030,3476) .. (950,3475) .. controls (870,3470) and (860,3420) .. (dcSampleP.-11);
\draw[inh] (gvBool.192) .. controls (1100,3515) and (1030,3560) .. (950,3558) .. controls (870,3555) and (860,3490) .. (dcBool.-11);
\draw[inh] (gvWeight.192) .. controls (1090,3600) and (1030,3643) .. (950,3641) .. controls (870,3638) and (858,3570) .. (dcWeight.-12);
\draw[inh] (gvSize.199) .. controls (1100,3690) and (1030,3720) .. (950,3717) .. controls (870,3712) and (855,3650) .. (dcSize.south east);
\draw[inh] (gvUint64.190) .. controls (1050,3735) and (900,3735) .. (dcUint64.-22);
% ---- GenericVector<X> -> GenericVector<T> (dashed) ----
\fanGU{gvCSample}{2970}{24}
\fanGU{gvCoef}{3043.6}{17}
\draw[tmpl] (gvScalar.west) .. controls (950,3125) and (840,3190) .. (gvT.12);
\draw[tmpl] (gvInt.west) .. controls (1000,3205) and (880,3238) .. (gvT.5);
\draw[tmpl] (gvSP.west) -- (gvT.east);
\draw[tmpl] (gvEM.west) .. controls (1000,3300) and (880,3280) .. (gvT.-6);
\draw[tmpl] (gvSampleP.west) .. controls (950,3400) and (860,3360) .. (gvT.-10);
\fanGD{gvBool}{3476.5}
\fanGD{gvWeight}{3547.6}
\fanGD{gvSize}{3622}
\fanGD{gvUint64}{3707.8}
% ---- GenericString ----
\draw[inh] (gsChar16) -- (dcChar16);
\draw[inh] (gsChar) -- (dcChar);
\draw[inh] (str) -- (gsChar16);
\draw[inh] (isoStr) -- (gsChar);
\draw[tmpl] (gsChar16.187) -- (gsT.east);
\draw[tmpl] (gsChar.175) .. controls (1000,3880) and (880,3865) .. (gsT.south east);
\end{pgfonlayer}
\end{tikzpicture}
\end{document}
